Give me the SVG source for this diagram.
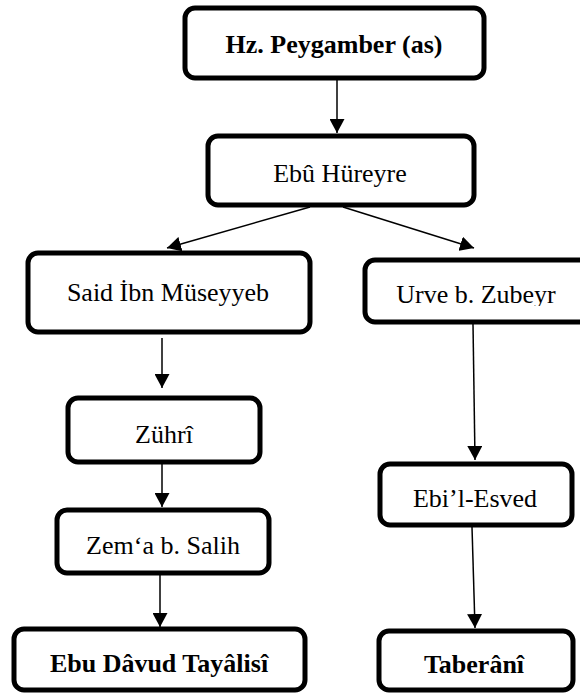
<svg xmlns="http://www.w3.org/2000/svg" width="580" height="693" viewBox="0 0 580 693">
  <style>
    .box { fill: #ffffff; stroke: #000000; stroke-width: 5; }
    .lbl { font-family: "Liberation Serif", "DejaVu Serif", serif; font-size: 26px; fill: #000000; text-anchor: middle; }
    .bold { font-weight: bold; }
    .conn { stroke: #000000; stroke-width: 1.5; fill: none; marker-end: url(#arrow); }
  </style>
  <defs>
    <marker id="arrow" viewBox="0 0 14 15" refX="14" refY="7.5" markerWidth="14" markerHeight="15" markerUnits="userSpaceOnUse" orient="auto">
      <path d="M0,0 L14,7.5 L0,15 Z" fill="#000000"/>
    </marker>
    <clipPath id="urveClip">
      <rect x="364" y="259" width="240" height="47"/>
    </clipPath>
  </defs>
  <rect width="580" height="693" fill="#ffffff"/>

  <g id="connectors">
    <line class="conn" x1="337" y1="80" x2="337" y2="133"/>
    <line class="conn" x1="310" y1="207" x2="167" y2="248"/>
    <line class="conn" x1="343" y1="207" x2="474" y2="248"/>
    <line class="conn" x1="162" y1="338" x2="162" y2="388"/>
    <line class="conn" x1="162" y1="464" x2="162" y2="507"/>
    <line class="conn" x1="160" y1="575" x2="160" y2="627"/>
    <line class="conn" x1="473" y1="324" x2="475" y2="460"/>
    <line class="conn" x1="472" y1="527" x2="475" y2="628"/>
  </g>

  <g id="n-peygamber">
    <rect class="box" x="185" y="8" width="299" height="70" rx="10"/>
    <text class="lbl bold" x="334" y="53">Hz. Peygamber (as)</text>
  </g>
  <g id="n-ebu-hureyre">
    <rect class="box" x="208" y="136" width="266" height="69" rx="10"/>
    <text class="lbl" x="340" y="182">Ebû Hüreyre</text>
  </g>
  <g id="n-said">
    <rect class="box" x="28" y="253" width="282" height="79" rx="10"/>
    <text class="lbl" x="168" y="301">Said İbn Müseyyeb</text>
  </g>
  <g id="n-urve">
    <rect class="box" x="365" y="260" width="240" height="62" rx="10"/>
    <text class="lbl" x="476" y="303" clip-path="url(#urveClip)">Urve b. Zubeyr</text>
  </g>
  <g id="n-zuhri">
    <rect class="box" x="68" y="398" width="192" height="64" rx="10"/>
    <text class="lbl" x="164" y="443">Zührî</text>
  </g>
  <g id="n-zema">
    <rect class="box" x="57" y="510" width="212" height="63" rx="10"/>
    <text class="lbl" x="163" y="554">Zem‘a b. Salih</text>
  </g>
  <g id="n-ebu-davud">
    <rect class="box" x="14" y="629" width="291" height="61" rx="10"/>
    <text class="lbl bold" x="159" y="672">Ebu Dâvud Tayâlisî</text>
  </g>
  <g id="n-ebil-esved">
    <rect class="box" x="380" y="464" width="192" height="61" rx="10"/>
    <text class="lbl" x="475" y="507">Ebi’l-Esved</text>
  </g>
  <g id="n-taberani">
    <rect class="box" x="379" y="631" width="194" height="59" rx="10"/>
    <text class="lbl bold" x="474" y="673">Taberânî</text>
  </g>
</svg>
